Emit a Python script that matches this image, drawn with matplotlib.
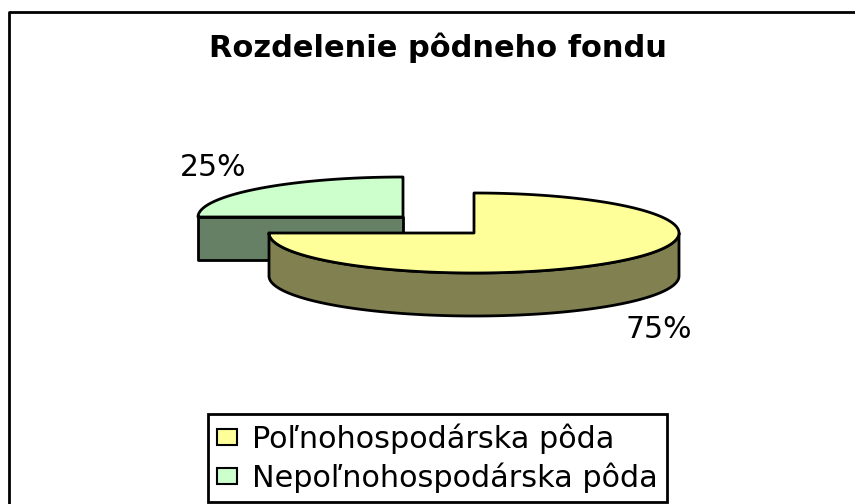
import numpy as np
import matplotlib
matplotlib.use('Agg')
import matplotlib.pyplot as plt
from matplotlib.patches import Patch, Polygon, Rectangle

# the wide glyphs of DejaVu come closest to the stretched lettering of the original
plt.rcParams['font.family'] = ['DejaVu Sans']

title = 'Rozdelenie pôdneho fondu'
categories = ['Poľnohospodárska pôda', 'Nepoľnohospodárska pôda']
values = [75, 25]
top_colors = ['#ffff99', '#ccffcc']
side_colors = ['#808050', '#668066']
centers = [(474, 233), (403, 217)]
RX, RY, DEPTH = 205, 40, 43


def arc(cx, cy, a0, a1):
    # angles clockwise from 12 o'clock, in degrees
    a = np.radians(np.linspace(a0, a1, 200))
    return np.column_stack([cx + RX * np.sin(a), cy - RY * np.cos(a)])


def draw_slice(ax, center, a0, a1, top_color, side_color):
    cx, cy = center
    edge = dict(edgecolor='black', linewidth=2, joinstyle='round')

    # outer wall, only the front half of the rim can be seen
    f0, f1 = max(a0, 90), min(a1, 270)
    if f1 > f0:
        rim = arc(cx, cy, f0, f1)
        wall = np.vstack([rim, rim[::-1] + [0, DEPTH]])
        ax.add_patch(Polygon(wall, facecolor=side_color, **edge))

    # cut face looking at the viewer
    if a0 == 270:
        ax.add_patch(Rectangle((cx - RX, cy), RX, DEPTH, facecolor=side_color, **edge))

    top = np.vstack([[cx, cy], arc(cx, cy, a0, a1)])
    ax.add_patch(Polygon(top, facecolor=top_color, **edge))


fig = plt.figure(figsize=(8.55, 5.04), dpi=100)
ax = fig.add_axes([0, 0, 1, 1])
ax.set_xlim(0, 855)
ax.set_ylim(504, 0)
ax.axis('off')

# chart frame runs off the picture on the right and at the bottom
ax.plot([9, 9, 860], [510, 12, 12], color='black', lw=2)

ends = np.cumsum(values) / np.sum(values) * 360
starts = np.r_[0, ends[:-1]]
# back slice first so the large one overlaps it
for i in [1, 0]:
    draw_slice(ax, centers[i], starts[i], ends[i], top_colors[i], side_colors[i])

ax.text(438, 48, title, fontsize=22, fontweight='bold', ha='center', va='center')
ax.text(213, 168, '{}%'.format(values[1]), fontsize=21.5, ha='center', va='center')
ax.text(659, 330, '{}%'.format(values[0]), fontsize=21.5, ha='center', va='center')

handles = [Patch(facecolor=c, edgecolor='black', linewidth=1.5) for c in top_colors]
leg = ax.legend(handles, categories, loc='lower left', bbox_to_anchor=(208 / 855, 2 / 504),
                fontsize=21.8, frameon=True, fancybox=False, framealpha=1, edgecolor='black',
                borderaxespad=0, borderpad=0.3, handlelength=0.66, handleheight=0.43,
                handletextpad=0.5, labelspacing=0.28)
leg.get_frame().set_linewidth(2)

plt.savefig('out.png', dpi=100)
